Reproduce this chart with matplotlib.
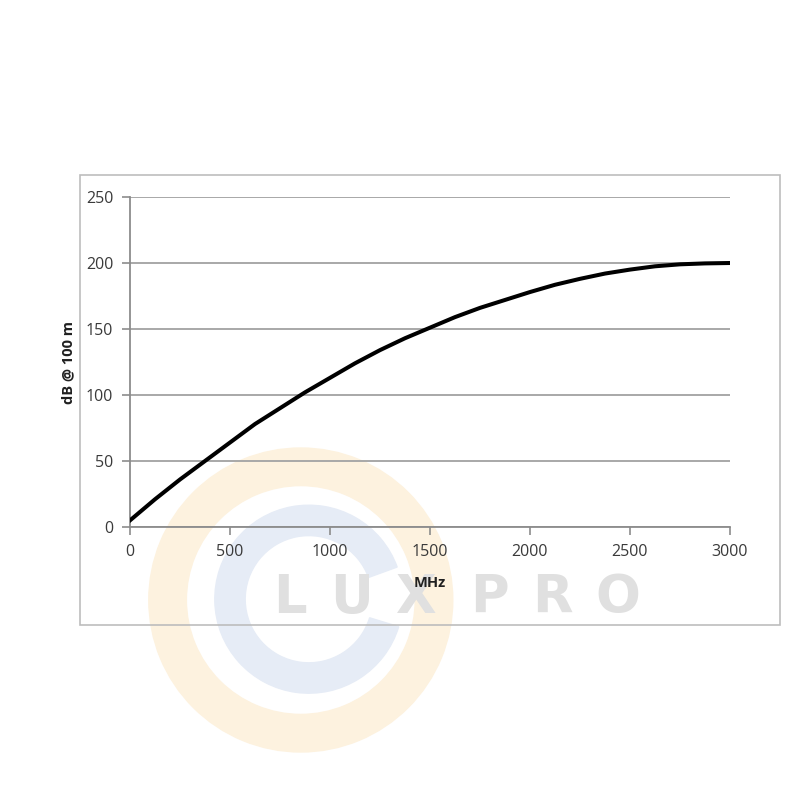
import matplotlib
matplotlib.use("Agg")
import matplotlib.pyplot as plt
from matplotlib.patches import Rectangle, Wedge

# Attenuation curve
freq_mhz = [0, 125, 250, 375, 500, 625, 750, 875, 1000, 1125, 1250, 1375, 1500,
            1625, 1750, 1875, 2000, 2125, 2250, 2375, 2500, 2625, 2750, 2875, 3000]
atten_db = [5, 21, 36, 50, 64, 78, 90, 102, 113, 124, 134, 143, 151,
            159, 166, 172, 178, 183.5, 188, 192, 195, 197.5, 199, 199.7, 200]

x_ticks = [0, 500, 1000, 1500, 2000, 2500, 3000]
y_ticks = [0, 50, 100, 150, 200, 250]

watermark = "LUXPRO"

plt.rcParams['font.family'] = ['Open Sans', 'DejaVu Sans']

fig = plt.figure(figsize=(8, 8), dpi=100)
fig.patch.set_facecolor("white")

# faint watermark behind the chart
fig.patches.append(Wedge((0.376, 0.25), 0.19, 0, 360, width=0.047,
                         transform=fig.transFigure, color="#fdf2df", zorder=-3))
fig.patches.append(Wedge((0.386, 0.251), 0.1175, 20, 343, width=0.038,
                         transform=fig.transFigure, color="#e6ecf6", zorder=-2))
for letter, xc in zip(watermark, [0.362, 0.439, 0.52, 0.612, 0.691, 0.772]):
    fig.text(xc, 0.2525, letter, ha="center", va="center", fontsize=38,
             fontweight="bold", color="#e0e0e0", family="DejaVu Sans", zorder=-1)

# outer chart frame
fig.patches.append(Rectangle((0.1, 0.21875), 0.875, 0.5625, transform=fig.transFigure,
                             fill=False, edgecolor="#bdbdbd", linewidth=1.2, zorder=-1))

ax = fig.add_axes([0.1625, 0.34125, 0.75, 0.4125])
ax.set_facecolor("none")

ax.plot(freq_mhz, atten_db, color="black", linewidth=2.9, solid_joinstyle="round", zorder=3)

ax.set_xlim(0, 3000)
ax.set_ylim(0, 250)
ax.set_xticks(x_ticks)
ax.set_yticks(y_ticks)
ax.yaxis.grid(True, color="#a8a8a8", linewidth=1.4)
ax.set_axisbelow(True)

for side in ["top", "right"]:
    ax.spines[side].set_visible(False)
for side in ["left", "bottom"]:
    ax.spines[side].set_color("#8c8c8c")
    ax.spines[side].set_linewidth(1.3)

ax.tick_params(axis="both", direction="out", length=6, width=1.2, color="#8c8c8c",
               labelsize=11.5, labelcolor="#3a3a3a", pad=6)

ax.set_xlabel("MHz", fontsize=10.5, fontweight="bold", color="#202020", labelpad=12)
ax.set_ylabel("dB @ 100 m", fontsize=10.5, fontweight="bold", color="#202020", labelpad=8)

fig.savefig("out.png", dpi=100)
